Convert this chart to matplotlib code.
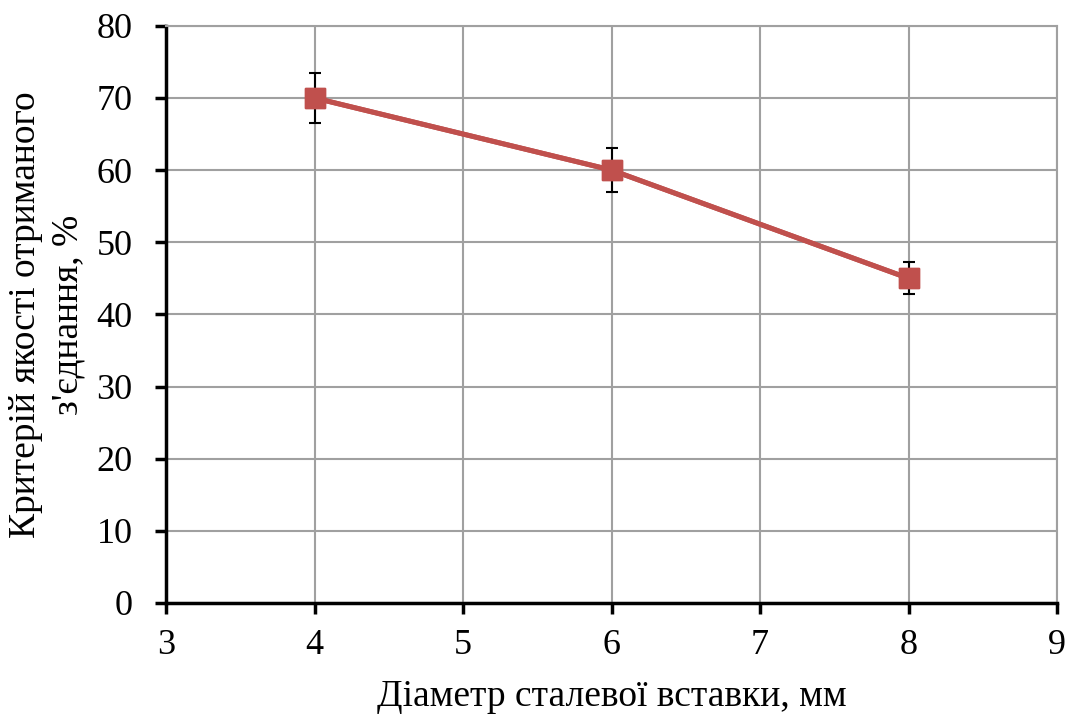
import numpy as np
import matplotlib.pyplot as plt

# Дані
diametr = [4, 6, 8]
kryterii = [70, 60, 45]
pokhybka = [3.5, 3.0, 2.2]

plt.rcParams['font.family'] = ['Liberation Serif', 'DejaVu Serif']

fig = plt.figure(figsize=(10.71, 7.17), dpi=100)
ax = fig.add_axes([0.155, 0.159, 0.832, 0.805])

ax.errorbar(diametr, kryterii, yerr=pokhybka, color='#C0504D', lw=3.6,
            marker='s', markersize=14.5, ecolor='black', elinewidth=1.5,
            capsize=4.5, capthick=1.5, zorder=3)
# лінія поверх вусів
ax.plot(diametr, kryterii, color='#C0504D', lw=3.6, marker='s',
        markersize=14.5, zorder=4)

ax.set_xlim(3, 9)
ax.set_ylim(0, 80)
ax.set_xticks(range(3, 10))
ax.set_yticks(range(0, 81, 10))
ax.grid(True, color='#a0a0a0', lw=1.5)
ax.set_axisbelow(True)

for s in ['top', 'right']:
    ax.spines[s].set_color('#a0a0a0')
    ax.spines[s].set_linewidth(1.5)
for s in ['left', 'bottom']:
    ax.spines[s].set_color('black')
    ax.spines[s].set_linewidth(2.5)

ax.tick_params(axis='both', labelsize=26, width=2.5, length=8, direction='out')
ax.tick_params(axis='x', pad=11)
ax.tick_params(axis='y', pad=16)

ax.set_xlabel('Діаметр сталевої вставки, мм', fontsize=27, labelpad=12)
ax.set_ylabel('Критерій якості отриманого\nз\'єднання, %', fontsize=27,
              linespacing=1.3, labelpad=8)

fig.savefig('out.png', dpi=100)
